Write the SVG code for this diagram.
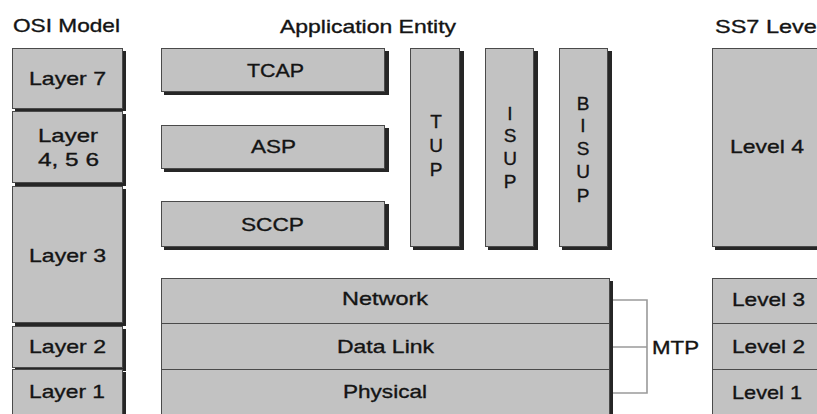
<svg xmlns="http://www.w3.org/2000/svg" width="817" height="414" viewBox="0 0 817 414">
<style>
.sh{fill:#262626}
.bx{fill:#c2c2c2;stroke:#4a4a4a;stroke-width:1}
.t{font-family:"Liberation Sans",Arial,sans-serif;font-size:19px;fill:#141414;stroke:#141414;stroke-width:0.35}
.m{text-anchor:middle}
.br{fill:none;stroke:#9a9a9a;stroke-width:1.6}
</style>
<rect width="817" height="414" fill="#ffffff"/>
<g id="titles">
<text class="t" x="13" y="32" textLength="107" lengthAdjust="spacingAndGlyphs">OSI Model</text>
<text class="t" x="280" y="33" textLength="176" lengthAdjust="spacingAndGlyphs">Application Entity</text>
<text class="t" x="715" y="33" textLength="107" lengthAdjust="spacingAndGlyphs">SS7 Level</text>
</g>
<g id="osi-layer7">
<rect class="sh" x="15" y="51" width="111" height="60"/>
<rect class="bx" x="12.5" y="48.5" width="110" height="60"/>
<text class="t" x="29" y="85" textLength="77" lengthAdjust="spacingAndGlyphs">Layer 7</text>
</g>
<g id="osi-layer456">
<rect class="sh" x="15" y="114" width="111" height="72"/>
<rect class="bx" x="12.5" y="111.5" width="110" height="71"/>
<text class="t" x="38" y="142" textLength="60" lengthAdjust="spacingAndGlyphs">Layer</text>
<text class="t" x="38" y="166" textLength="61" lengthAdjust="spacingAndGlyphs">4, 5 6</text>
</g>
<g id="osi-layer3">
<rect class="sh" x="15" y="189" width="111" height="137"/>
<rect class="bx" x="12.5" y="186.5" width="110" height="136"/>
<text class="t" x="29" y="262" textLength="77" lengthAdjust="spacingAndGlyphs">Layer 3</text>
</g>
<g id="osi-layer2">
<rect class="sh" x="15" y="329" width="111" height="42"/>
<rect class="bx" x="12.5" y="326.5" width="110" height="41"/>
<text class="t" x="29" y="353" textLength="77" lengthAdjust="spacingAndGlyphs">Layer 2</text>
</g>
<g id="osi-layer1">
<rect class="sh" x="15" y="372" width="111" height="50"/>
<rect class="bx" x="12.5" y="369.5" width="110" height="50"/>
<text class="t" x="29" y="398" textLength="76" lengthAdjust="spacingAndGlyphs">Layer 1</text>
</g>
<g id="tcap">
<rect class="sh" x="164" y="51" width="225" height="44"/>
<rect class="bx" x="161.5" y="48.5" width="223" height="43"/>
<text class="t" x="247" y="77" textLength="57" lengthAdjust="spacingAndGlyphs">TCAP</text>
</g>
<g id="asp">
<rect class="sh" x="164" y="128" width="225" height="44"/>
<rect class="bx" x="161.5" y="125.5" width="223" height="43"/>
<text class="t" x="251" y="153" textLength="45" lengthAdjust="spacingAndGlyphs">ASP</text>
</g>
<g id="sccp">
<rect class="sh" x="164" y="204" width="225" height="46"/>
<rect class="bx" x="161.5" y="201.5" width="223" height="45"/>
<text class="t" x="241" y="231" textLength="63" lengthAdjust="spacingAndGlyphs">SCCP</text>
</g>
<g id="tup">
<rect class="sh" x="413" y="51" width="51" height="199"/>
<rect class="bx" x="410.5" y="48.5" width="49" height="198"/>
<text class="t m" x="436" y="128">T</text>
<text class="t m" x="436" y="152">U</text>
<text class="t m" x="436" y="176">P</text>
</g>
<g id="isup">
<rect class="sh" x="488" y="51" width="50" height="199"/>
<rect class="bx" x="485.5" y="48.5" width="48" height="198"/>
<text class="t m" x="510" y="120">I</text>
<text class="t m" x="510" y="142">S</text>
<text class="t m" x="510" y="165">U</text>
<text class="t m" x="510" y="188">P</text>
</g>
<g id="bisup">
<rect class="sh" x="562" y="51" width="50" height="199"/>
<rect class="bx" x="559.5" y="48.5" width="48" height="198"/>
<text class="t m" x="583" y="110">B</text>
<text class="t m" x="583" y="132">I</text>
<text class="t m" x="583" y="155">S</text>
<text class="t m" x="583" y="178">U</text>
<text class="t m" x="583" y="202">P</text>
</g>
<g id="level4">
<rect class="sh" x="715" y="51" width="110" height="199"/>
<rect class="bx" x="712.5" y="48.5" width="110" height="198"/>
<text class="t" x="730" y="153" textLength="74" lengthAdjust="spacingAndGlyphs">Level 4</text>
</g>
<g id="mtp-block">
<rect class="sh" x="164" y="281" width="449" height="140"/>
<g id="network">
<rect class="bx" x="161.5" y="278.5" width="448" height="45"/>
<text class="t" x="342" y="305" textLength="86" lengthAdjust="spacingAndGlyphs">Network</text>
</g>
<g id="datalink">
<rect class="bx" x="161.5" y="323.5" width="448" height="46"/>
<text class="t" x="337" y="353" textLength="97" lengthAdjust="spacingAndGlyphs">Data Link</text>
</g>
<g id="physical">
<rect class="bx" x="161.5" y="369.5" width="448" height="50"/>
<text class="t" x="343" y="398" textLength="84" lengthAdjust="spacingAndGlyphs">Physical</text>
</g>
</g>
<g id="levels123">
<g id="level3">
<rect class="bx" x="712.5" y="278.5" width="110" height="45"/>
<text class="t" x="732" y="306" textLength="73" lengthAdjust="spacingAndGlyphs">Level 3</text>
</g>
<g id="level2">
<rect class="bx" x="712.5" y="323.5" width="110" height="46"/>
<text class="t" x="732" y="353" textLength="73" lengthAdjust="spacingAndGlyphs">Level 2</text>
</g>
<g id="level1">
<rect class="bx" x="712.5" y="369.5" width="110" height="50"/>
<text class="t" x="732" y="399" textLength="70" lengthAdjust="spacingAndGlyphs">Level 1</text>
</g>
</g>
<g id="connectors">
<path class="br" d="M613,300 H647 V393 H613 M613,347 H647"/>
</g>
<g id="mtp-label">
<text class="t" x="652" y="354" textLength="47" lengthAdjust="spacingAndGlyphs">MTP</text>
</g>
</svg>
